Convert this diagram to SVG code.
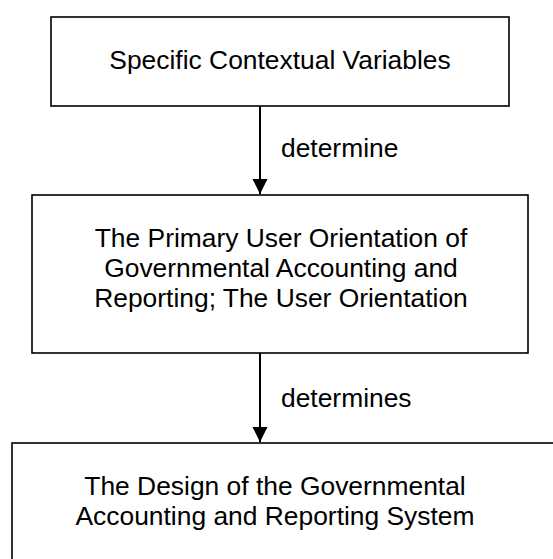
<svg xmlns="http://www.w3.org/2000/svg" width="553" height="559" viewBox="0 0 553 559">
  <style>
    .box { fill: #ffffff; stroke: #000000; stroke-width: 1.6; }
    .t { font-family: "Liberation Sans", Arial, sans-serif; font-size: 26.4px; fill: #000000; }
    .c { text-anchor: middle; }
    .edge { stroke: #000000; stroke-width: 2; fill: none; }
  </style>
  <defs>
    <marker id="arrow" markerWidth="16" markerHeight="16" refX="15" refY="7.5" orient="auto" markerUnits="userSpaceOnUse">
      <path d="M0,0 L15,7.5 L0,15 Z" fill="#000000"/>
    </marker>
  </defs>
  <rect width="553" height="559" fill="#ffffff"/>
  <g id="connectors">
    <line class="edge" x1="260" y1="106" x2="260" y2="194" marker-end="url(#arrow)"/>
    <text class="t" x="281" y="157">determine</text>
    <line class="edge" x1="260" y1="353" x2="260" y2="442" marker-end="url(#arrow)"/>
    <text class="t" x="281" y="407">determines</text>
  </g>
  <g id="node-contextual">
    <rect class="box" x="51" y="17" width="458" height="89"/>
    <text class="t c" x="280" y="68.5">Specific Contextual Variables</text>
  </g>
  <g id="node-orientation">
    <rect class="box" x="32" y="195" width="496" height="158"/>
    <text class="t c" x="281" y="247">The Primary User Orientation of</text>
    <text class="t c" x="281" y="277">Governmental Accounting and</text>
    <text class="t c" x="281" y="307">Reporting; The User Orientation</text>
  </g>
  <g id="node-design">
    <rect class="box" x="12" y="443" width="560" height="140"/>
    <text class="t c" x="275" y="495">The Design of the Governmental</text>
    <text class="t c" x="275" y="525">Accounting and Reporting System</text>
  </g>
</svg>
